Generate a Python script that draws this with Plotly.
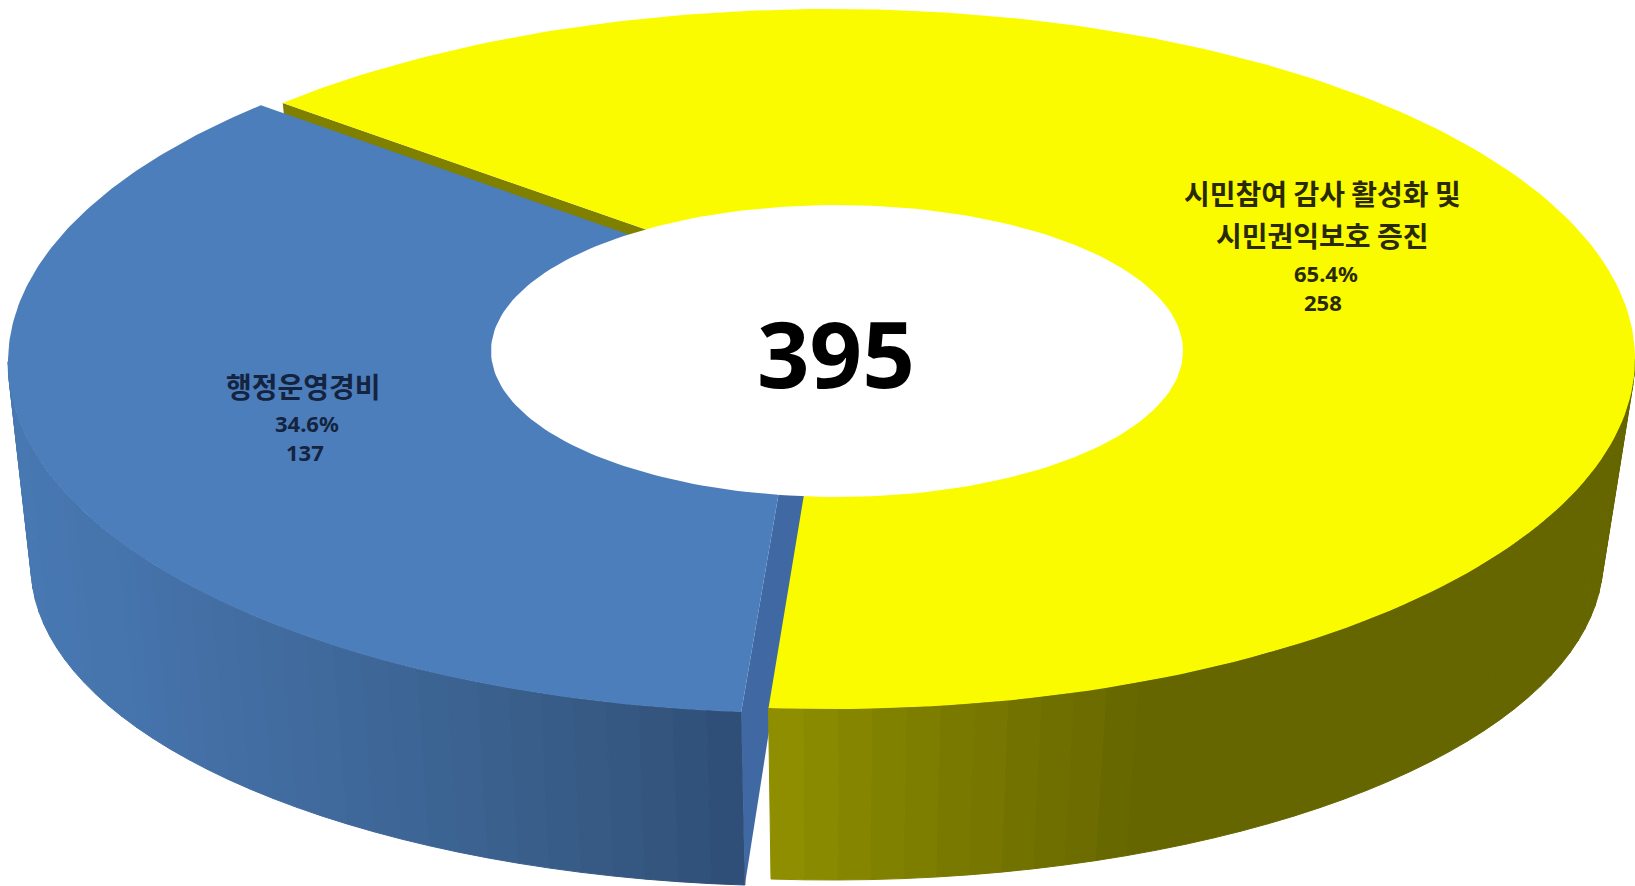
import numpy as np
import plotly.graph_objects as go

# --- data ---
categories = ["행정운영경비", "시민참여 감사 활성화 및<br>시민권익보호 증진"]
values = [137, 258]
percent_labels = ["34.6%", "65.4%"]
total_label = "395"

W, H = 1635, 886
K = 0.2                      # perspective of the tilted disc
A = 1 / (1 - K**2)
B = 1 / np.sqrt(1 - K**2)
C0 = K / (1 - K**2)

share = np.array(values) / sum(values) * 360
YELLOW_START = 218.5
yellow_range = (YELLOW_START, YELLOW_START + share[1])
blue_range = (yellow_range[1] - 360, yellow_range[1] - 360 + share[0])

# ellipse frames: cx, cy, rx, ry, x and y of the projected disc centre
Y_TOP = (831, 359, 804, 350, 837, 296)
Y_LOW = (831, 560, 772, 320, 831, 496)
B_TOP = (803, 362, 795, 351, 812, 299)
B_LOW = (805, 566, 774, 320, 805, 502)
HOLE = (837, 351, 346, 146)
SILHOUETTE = 11.5            # angle where the wall leaves the top outline


def proj(frame, deg):
    t = np.radians(deg)
    d = 1 - K * np.sin(t)
    u = np.cos(t) / d / B
    v = (np.sin(t) / d - C0) / A
    return frame[0] + u * frame[2], frame[1] + v * frame[3]


def apex(frame):
    return frame[4], frame[5]


fig = go.Figure()


def poly(xs, ys, color, line=0.0):
    fig.add_trace(go.Scatter(
        x=list(xs), y=list(ys), mode="lines", fill="toself", fillcolor=color,
        line=dict(color=color, width=line), hoverinfo="skip", showlegend=False))


def cut_face(top, low, deg, color):
    xt, yt = proj(top, deg)
    xl, yl = proj(low, deg)
    ax, ay = apex(top)
    bx, by = apex(low)
    poly([xt, xl, bx, ax, xt], [yt, yl, by, ay, yt], color)


def wall(top, low, a0, a1, stops):
    edges = np.linspace(a0, a1, int(abs(a1 - a0) / 2) + 1)
    for p, q in zip(edges[:-1], edges[1:]):
        x1, y1 = proj(top, p)
        x2, y2 = proj(top, q)
        x3, y3 = proj(low, q)
        x4, y4 = proj(low, p)
        xm = (x1 + x2) / 2
        rgb = [np.interp(xm, stops[0], ch) for ch in stops[1:]]
        col = "rgb(%d,%d,%d)" % tuple(rgb)
        poly([x1, x2, x3, x4, x1], [y1, y2, y3, y4, y1], col, 1)


def top_face(frame, a0, a1, color):
    th = np.linspace(a0, a1, 200)
    xs, ys = proj(frame, th)
    ax, ay = apex(frame)
    poly(list(xs) + [ax, xs[0]], list(ys) + [ay, ys[0]], color)


blue_stops = ([30, 200, 400, 600, 745],
              [72, 68, 62, 54, 47], [120, 112, 102, 90, 78], [178, 166, 150, 132, 118])
yellow_stops = ([770, 900, 1050, 1150, 1640],
                [145, 128, 112, 102, 102], [145, 128, 112, 102, 102], [0, 0, 0, 0, 0])

BLUE = "#4c7ebb"
YELLOW = "#fbfb00"

# back-to-front painting
cut_face(Y_TOP, Y_LOW, yellow_range[0], "#7f7f00")
wall(B_TOP, B_LOW, 180 - SILHOUETTE, blue_range[0], blue_stops)
cut_face(B_TOP, B_LOW, blue_range[0], "#4069a3")
wall(Y_TOP, Y_LOW, SILHOUETTE, yellow_range[1] - 360, yellow_stops)
top_face(B_TOP, blue_range[0], blue_range[1], BLUE)
top_face(Y_TOP, yellow_range[0], yellow_range[1], YELLOW)

t = np.linspace(0, 2 * np.pi, 240)
poly(HOLE[0] + HOLE[2] * np.cos(t), HOLE[1] + HOLE[3] * np.sin(t), "#ffffff")

KR = "Noto Sans CJK KR"


def label(x, y, text, size, color, family=KR, weight=700):
    fig.add_annotation(x=x, y=y, text=text, showarrow=False, xanchor="center", yanchor="middle",
                       font=dict(family=family, size=size, color=color, weight=weight))


label(303, 386, categories[0], 28, "#14233f")
label(307, 423, percent_labels[0], 22, "#14233f", "Noto Sans")
label(305, 452, str(values[0]), 22, "#14233f", "Noto Sans")

first, second = categories[1].split("<br>")
label(1322, 193, first, 28, "#2a2a00")
label(1322, 235, second, 28, "#2a2a00")
label(1326, 273, percent_labels[1], 22, "#2a2a00", "Noto Sans")
label(1323, 302, str(values[1]), 22, "#2a2a00", "Noto Sans")

label(836, 352, total_label, 92, "#000000", "Noto Sans")

fig.update_xaxes(visible=False, range=[0, W], fixedrange=True)
fig.update_yaxes(visible=False, range=[H, 0], fixedrange=True)
fig.update_layout(width=W, height=H, margin=dict(l=0, r=0, t=0, b=0),
                  paper_bgcolor="#ffffff", plot_bgcolor="#ffffff", showlegend=False)

fig.write_html("out.html", config={"displayModeBar": False},
               post_script="document.body.style.margin='0';")
